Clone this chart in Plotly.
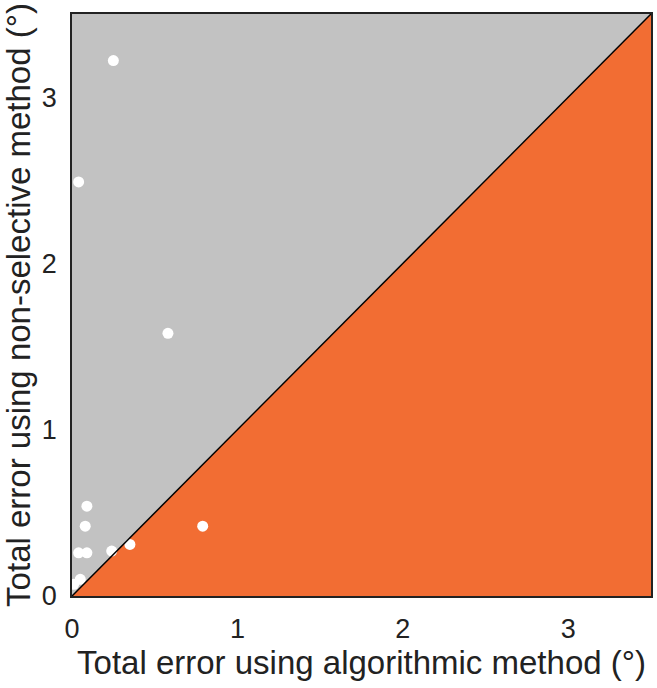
import plotly.graph_objects as go

# error per sample, degrees
algorithmic_err = [0.25, 0.04, 0.58, 0.79, 0.09, 0.08, 0.04, 0.09, 0.24, 0.35, 0.05, 0.01]
nonselective_err = [3.22, 2.49, 1.58, 0.42, 0.54, 0.42, 0.26, 0.26, 0.27, 0.31, 0.10, 0.07]

axis_max = 3.5
tick_vals = [0, 1, 2, 3]

FONT = "Liberation Sans, Arial, Helvetica, sans-serif"
INK = "#222"

fig = go.Figure()

# orange region below the identity line
fig.add_shape(type="path",
              path=f"M 0 0 L {axis_max} 0 L {axis_max} {axis_max} Z",
              xref="x", yref="y", fillcolor="#F26D33", line_width=0, layer="below")
fig.add_shape(type="line", x0=0, y0=0, x1=axis_max, y1=axis_max,
              xref="x", yref="y", line=dict(color="black", width=1.5))

fig.add_trace(go.Scatter(x=algorithmic_err, y=nonselective_err,
                         mode="markers",
                         marker=dict(color="white", size=11, line_width=0),
                         cliponaxis=False,
                         hovertemplate="x = %{x}°<br>y = %{y}°"))

fig.update_xaxes(range=[0, axis_max], tickvals=tick_vals, ticks="",
                 showgrid=False, zeroline=False,
                 showline=True, mirror=True, linecolor=INK, linewidth=1.5,
                 tickfont=dict(size=27, color=INK),
                 ticklabelstandoff=8,
                 title_text="Total error using algorithmic method (°)",
                 title_font=dict(size=33, color=INK),
                 title_standoff=2)
fig.update_yaxes(range=[0, axis_max], tickvals=tick_vals, ticks="",
                 showgrid=False, zeroline=False,
                 showline=True, mirror=True, linecolor=INK, linewidth=1.5,
                 tickfont=dict(size=27, color=INK),
                 ticklabelstandoff=8,
                 title_text="Total error using non-selective method (°)",
                 title_font=dict(size=33, color=INK),
                 title_standoff=6)

fig.update_layout(width=657, height=688,
                  margin=dict(l=72, r=4, t=14, b=92),
                  plot_bgcolor="#C2C2C2", paper_bgcolor="white",
                  font=dict(family=FONT),
                  showlegend=False)

fig.write_html("out.html",
               config={"displayModeBar": False},
               post_script="document.body.style.margin='0';document.body.style.overflow='hidden';")
